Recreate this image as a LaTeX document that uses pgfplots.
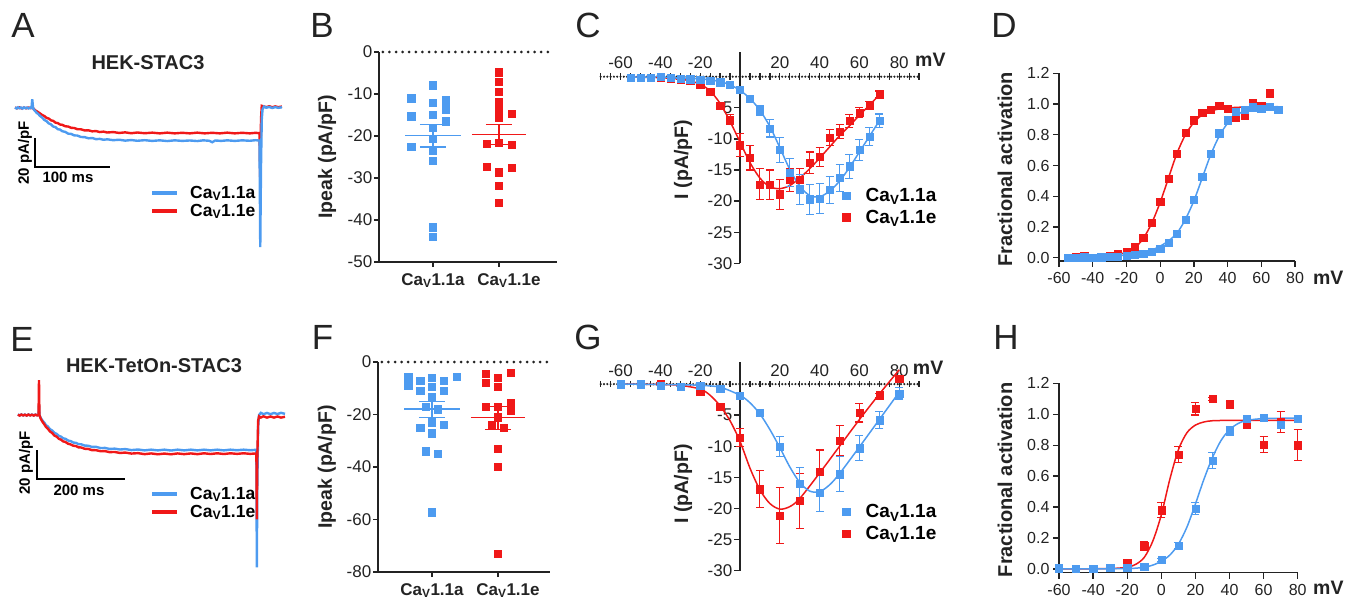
\documentclass[border=0pt]{standalone}
\usepackage{fontspec}
\setmainfont{Liberation Sans}
\usepackage{pgfplots}
\pgfplotsset{compat=1.18}

\definecolor{cblue}{RGB}{77,155,240}
\definecolor{cred}{RGB}{240,24,24}
\definecolor{axc}{RGB}{35,35,35}

\pgfplotsset{
  panel/.style={scale only axis, clip=false,
    /pgf/number format/assume math mode=true,
    tick label style={font=\fontsize{17}{20}\selectfont, text=axc},
    axis line style={line width=1.3pt, axc},
    tick style={line width=1.3pt, axc},
    major tick length=5pt, tick align=outside,
    label style={font=\bfseries\fontsize{19.5}{23}\selectfont, text=axc}},
  sqmk/.style={only marks, mark=square*, mark size=3.6pt},
  ebar/.style={error bars/y dir=both, error bars/y explicit,
    error bars/error bar style={line width=1.1pt},
    error bars/error mark options={rotate=90, mark size=4pt, line width=1.1pt}},
  fit/.style={line width=1.5pt, smooth},
  mvlab/.style={xlabel={mV}, xlabel style={anchor=west, inner sep=0pt, font=\bfseries\fontsize{19.5}{23}\selectfont}},
  ivleg/.style={reverse legend, legend cell align=left,
    legend image code/.code={\draw[##1] plot coordinates {(0pt,0pt)};},
    legend style={draw=none, fill=none, anchor=west, font=\bfseries\fontsize{19}{22}\selectfont,
      row sep=3pt, /tikz/every odd column/.append style={column sep=14pt}}},
  ivx/.style={xmin=-70, xmax=90, ymin=-30, ymax=0, axis x line*=top, axis y line=none,
    tick align=center, major tick length=6.5pt, minor tick length=6.5pt,
    xtick={-60,-40,-20,20,40,60,80}, minor xtick={-70,-65,...,90},
    x axis line style={line width=2.4pt, line cap=round, dash pattern=on 0pt off 3.3pt},
    xtick style={line width=1.3pt}, xticklabel style={yshift=1pt}},
  ipk/.style={axis x line*=bottom, axis y line*=left,
    xtick={1,2}, xticklabels={Ca\textsubscript{V}1.1a\hspace{20pt},\hspace{20pt}Ca\textsubscript{V}1.1e},
    xticklabel style={font=\bfseries\fontsize{17}{20}\selectfont, yshift=-3pt},
    yticklabel style={inner xsep=1.5pt}},
  fa/.style={axis x line*=bottom, axis y line*=left,
    tick label style={font=\fontsize{16}{19}\selectfont},
    major tick length=6pt, xtick={-60,-40,-20,0,20,40,60,80}, ytick={0,0.2,0.4,0.6,0.8,1.0,1.2},
    yticklabel style={/pgf/number format/.cd, fixed, fixed zerofill, precision=1},
    xticklabel style={yshift=-2pt}, ylabel={Fractional activation}},
  zline/.style={axc, line width=3pt, line cap=round, dash pattern=on 0pt off 6.6pt},
}

\newcommand{\lettr}[3]{\node[font=\fontsize{35}{40}\selectfont, text=axc] at (#1pt,-#2pt) {#3};}

\begin{document}
\begin{tikzpicture}
\useasboundingbox (0,0) rectangle (1357pt,-601pt);

% ---------- panel letters, titles, scale bars
\lettr{23}{25}{A}\lettr{322}{25.5}{B}\lettr{588}{25}{C}\lettr{1004}{25}{D}
\lettr{22}{339}{E}\lettr{322.5}{337.5}{F}\lettr{588}{337}{G}\lettr{1006}{337.5}{H}

\node[font=\bfseries\fontsize{20}{24}\selectfont, text=axc] at (148pt,-63pt) {HEK-STAC3};
\node[font=\bfseries\fontsize{20}{24}\selectfont, text=axc] at (154pt,-366pt) {HEK-TetOn-STAC3};

\draw[black, line width=1.6pt] (35pt,-138pt) -- (35pt,-167pt) -- (110pt,-167pt);
\node[rotate=90, font=\bfseries\fontsize{15}{18}\selectfont] at (25pt,-153pt) {20 pA/pF};
\node[font=\bfseries\fontsize{15}{18}\selectfont] at (68pt,-177pt) {100 ms};
\draw[black, line width=1.6pt] (37pt,-450pt) -- (37pt,-479pt) -- (125pt,-479pt);
\node[rotate=90, font=\bfseries\fontsize{15}{18}\selectfont] at (26pt,-463pt) {20 pA/pF};
\node[font=\bfseries\fontsize{15}{18}\selectfont] at (79pt,-490.5pt) {200 ms};

\draw[cblue, line width=3.2pt] (152pt,-193pt) -- (177pt,-193pt);
\draw[cred, line width=3.2pt] (152pt,-211pt) -- (177pt,-211pt);
\node[anchor=base west, inner sep=0pt, font=\bfseries\fontsize{17.5}{20}\selectfont] at (190pt,-198.3pt) {Ca\textsubscript{V}1.1a};
\node[anchor=base west, inner sep=0pt, font=\bfseries\fontsize{17.5}{20}\selectfont] at (190pt,-216.3pt) {Ca\textsubscript{V}1.1e};
\draw[cblue, line width=3.2pt] (152pt,-494pt) -- (177pt,-494pt);
\draw[cred, line width=3.2pt] (152pt,-512pt) -- (177pt,-512pt);
\node[anchor=base west, inner sep=0pt, font=\bfseries\fontsize{17.5}{20}\selectfont] at (190pt,-499.3pt) {Ca\textsubscript{V}1.1a};
\node[anchor=base west, inner sep=0pt, font=\bfseries\fontsize{17.5}{20}\selectfont] at (190pt,-517.3pt) {Ca\textsubscript{V}1.1e};

% ---------- A: traces
\begin{axis}[scale only axis, hide axis, clip=false, at={(15pt,-253pt)}, anchor=south west,
  width=267pt, height=159.5pt, xmin=-23, xmax=333, ymin=-100, ymax=10]
\addplot[cred, line width=2.4pt] coordinates {
(-23,0.3)(-20,-0.2)(-17,0.4)(-14,-0.3)(-11,0.3)(-8,-0.2)(-5,0.3)(-2,-0.1)(0,0.5)(2,-0.6)(4,-1.6)(7,-2.6)(10,-3.6)(13,-4.8)(16,-5.5)(19,-6.8)(22,-7.3)(25,-8.5)(28,-8.9)(31,-10.1)(34,-10.4)(37,-11.4)(40,-11.6)(44,-12.6)(48,-12.8)(52,-13.7)(56,-13.8)(60,-14.6)(65,-14.7)(70,-15.5)(75,-15.4)(80,-16.1)(85,-15.9)(90,-16.6)(95,-16.3)(100,-16.9)(108,-16.6)(116,-17.2)(124,-16.8)(132,-17.4)(140,-16.9)(150,-17.4)(160,-17.0)(170,-17.5)(180,-17.0)(190,-17.5)(200,-17.1)(210,-17.5)(220,-17.0)(230,-17.5)(240,-17.1)(250,-17.5)(260,-17.0)(270,-17.5)(280,-17.1)(290,-17.5)(298,-17.1)(303,-17.4)(304,-50)(305,-8)(306,1.5)(308,1.2)(312,0.6)(316,1.2)(320,0.5)(324,1.1)(328,0.6)(333,1)};
\addplot[cblue, line width=2.4pt] coordinates {
(-23,0.4)(-21,-0.3)(-19,0.5)(-17,-0.2)(-15,0.3)(-13,-0.4)(-11,0.4)(-9,-0.2)(-7,0.3)(-5,-0.3)(-3,0.2)(-1,0)(0,6)(1,0.5)(2,-1)(4,-2.2)(6,-3.4)(8,-4.1)(10,-5.3)(13,-6.5)(16,-8.2)(19,-9.1)(22,-10.6)(25,-11.3)(28,-12.8)(31,-13.2)(34,-14.6)(37,-14.9)(40,-16.0)(44,-16.5)(48,-17.7)(52,-17.9)(56,-18.9)(60,-19.0)(65,-20.0)(70,-20.1)(75,-20.9)(80,-20.7)(85,-21.5)(90,-21.3)(95,-21.9)(100,-21.6)(108,-22.2)(116,-21.9)(124,-22.5)(132,-22.1)(140,-22.6)(150,-22.2)(160,-22.7)(170,-22.3)(180,-22.8)(190,-22.3)(200,-22.7)(210,-22.4)(220,-22.8)(228,-22.3)(236,-22.6)(240,-23.6)(244,-22.4)(252,-22.7)(260,-22.3)(270,-22.7)(280,-22.3)(290,-22.6)(298,-22.2)(303,-22.5)(304,-96)(305,-40)(306,-8)(307,-1)(309,1)(312,0.2)(316,0.7)(320,0)(324,0.6)(328,0.1)(333,0.5)};
\end{axis}

% ---------- E: traces
\begin{axis}[scale only axis, hide axis, clip=false, at={(18pt,-574.5pt)}, anchor=south west,
  width=267pt, height=197.2pt, xmin=-47.7, xmax=559, ymin=-110, ymax=26]
\addplot[cblue, line width=2.4pt] coordinates {
(-48,0.4)(-44,-0.3)(-40,0.4)(-36,-0.3)(-32,0.3)(-28,-0.4)(-24,0.4)(-20,-0.2)(-16,0.3)(-12,-0.3)(-8,0.3)(-4,-0.2)(-1,0)(0,7)(1,0)(4,-2.0)(8,-3.9)(12,-5.2)(16,-7.1)(20,-7.9)(25,-9.8)(30,-10.7)(35,-12.3)(40,-13.0)(45,-14.4)(50,-14.9)(55,-16.1)(60,-16.4)(66,-17.6)(72,-18.0)(78,-19.0)(84,-19.2)(90,-20.1)(96,-20.2)(104,-21.1)(112,-21.2)(120,-22.0)(130,-22.0)(140,-22.8)(150,-22.7)(160,-23.4)(172,-23.2)(184,-23.8)(196,-23.5)(210,-24.2)(225,-23.8)(240,-24.4)(255,-23.9)(270,-24.4)(285,-23.9)(300,-24.5)(315,-23.9)(330,-24.4)(345,-23.9)(360,-24.4)(375,-23.9)(390,-24.4)(405,-23.9)(420,-24.4)(435,-23.9)(450,-24.3)(465,-23.9)(480,-24.3)(494,-24.0)(495,-105)(496,-50)(498,-8)(500,0)(504,1.5)(510,0.6)(518,1.4)(526,0.6)(534,1.4)(542,0.7)(550,1.5)(559,0.8)};
\addplot[cred, line width=2.4pt] coordinates {
(-48,0.2)(-44,-0.4)(-40,0.3)(-36,-0.3)(-32,0.2)(-28,-0.4)(-24,0.3)(-20,-0.3)(-16,0.2)(-12,-0.4)(-8,0.2)(-4,-0.3)(-1,0)(0,24)(1,0)(4,-2.6)(8,-4.7)(12,-6.4)(16,-8.3)(20,-9.4)(25,-11.4)(30,-12.4)(35,-14.2)(40,-14.9)(45,-16.4)(50,-17.0)(55,-18.2)(60,-18.6)(66,-19.8)(72,-20.3)(78,-21.2)(84,-21.4)(90,-22.3)(96,-22.4)(104,-23.3)(112,-23.4)(120,-24.2)(130,-24.3)(140,-25.0)(150,-24.9)(160,-25.6)(172,-25.5)(184,-26.2)(196,-25.9)(210,-26.6)(225,-26.3)(240,-27.0)(255,-26.5)(270,-27.1)(285,-26.6)(300,-27.1)(315,-26.5)(330,-27.0)(345,-26.5)(360,-27.0)(375,-26.4)(390,-26.9)(405,-26.4)(420,-26.9)(435,-26.4)(450,-26.8)(465,-26.4)(480,-26.8)(494,-26.5)(495,-72)(496,-30)(498,-4)(500,-1)(504,-1.8)(510,-0.9)(518,-1.8)(526,-1.0)(534,-1.8)(542,-1.0)(550,-1.8)(559,-1.2)};
\end{axis}

% ---------- B: Ipeak scatter
\begin{axis}[panel, ipk, at={(379pt,-262pt)}, anchor=south west, width=178pt, height=210pt,
  xmin=0.182, xmax=2.879, ymin=-50, ymax=0, ytick={-50,-40,-30,-20,-10,0},
  ylabel={Ipeak (pA/pF)}, ylabel style={at={(axis description cs:-0.292,0.5)}, anchor=center}]
\addplot[zline] coordinates {(0.24,0) (2.81,0)};
\addplot[sqmk, cblue] coordinates {(1,-7.9)(0.67,-11.0)(1,-12.1)(1.19,-11.5)(1.19,-13.6)(0.67,-15.3)(1,-14.9)(1.19,-16.5)(1,-18.1)(1,-20.6)(0.67,-22.6)(1,-23.4)(1,-25.8)(1,-41.7)(1,-43.9)};
\addplot[sqmk, cred] coordinates {(2,-4.8)(2,-7.1)(2,-9.4)(2,-11.9)(2,-12.9)(2,-14.3)(2,-15.6)(2.19,-14.7)(1.81,-21.8)(2,-21.6)(2.19,-22.0)(1.81,-27.4)(2.19,-27.5)(2,-28.6)(2,-31.9)(2,-35.9)};
\addplot[cblue, line width=1.3pt] coordinates {(0.58,-19.9) (1.42,-19.9)};
\addplot[cblue, line width=1.3pt] coordinates {(1,-17.2) (1,-22.6)};
\addplot[cblue, line width=1.3pt] coordinates {(0.8,-17.2) (1.2,-17.2)};
\addplot[cblue, line width=1.3pt] coordinates {(0.8,-22.6) (1.2,-22.6)};
\addplot[cred, line width=1.3pt] coordinates {(1.59,-19.7) (2.41,-19.7)};
\addplot[cred, line width=1.3pt] coordinates {(2,-17.3) (2,-22.1)};
\addplot[cred, line width=1.3pt] coordinates {(1.8,-17.3) (2.2,-17.3)};
\addplot[cred, line width=1.3pt] coordinates {(1.8,-22.1) (2.2,-22.1)};
\end{axis}

% ---------- F: Ipeak scatter
\begin{axis}[panel, ipk, at={(378pt,-572pt)}, anchor=south west, width=172pt, height=210pt,
  xmin=0.182, xmax=2.788, ymin=-80, ymax=0, ytick={-80,-60,-40,-20,0},
  ylabel={Ipeak (pA/pF)}, ylabel style={at={(axis description cs:-0.297,0.5)}, anchor=center}]
\addplot[zline] coordinates {(0.24,0) (2.75,0)};
\addplot[sqmk, cblue] coordinates {(0.64,-5.7)(0.64,-7.6)(0.64,-8.9)(0.82,-7.0)(1,-6.0)(1.18,-7.0)(1.37,-5.5)(1,-9.5)(0.82,-10.8)(1.18,-10.8)(1,-13.1)(0.91,-16.9)(1.09,-18.0)(1,-22.9)(0.82,-25.0)(1.18,-23.9)(1,-27.1)(0.91,-34.0)(1.09,-34.9)(1,-57.2)};
\addplot[sqmk, cred] coordinates {(1.81,-4.4)(2.19,-4.2)(2,-6.1)(1.81,-8.0)(2,-9.5)(1.81,-16.9)(2,-16.9)(2.19,-15.6)(2.19,-18.7)(2,-21.0)(1.9,-23.9)(2.09,-25.0)(2,-33.0)(2,-40.0)(2,-73.0)};
\addplot[cblue, line width=1.3pt] coordinates {(0.58,-17.9) (1.42,-17.9)};
\addplot[cblue, line width=1.3pt] coordinates {(1,-15.0) (1,-21.2)};
\addplot[cblue, line width=1.3pt] coordinates {(0.8,-15.0) (1.2,-15.0)};
\addplot[cblue, line width=1.3pt] coordinates {(0.8,-21.2) (1.2,-21.2)};
\addplot[cred, line width=1.3pt] coordinates {(1.59,-21.2) (2.41,-21.2)};
\addplot[cred, line width=1.3pt] coordinates {(2,-16.9) (2,-25.7)};
\addplot[cred, line width=1.3pt] coordinates {(1.8,-16.9) (2.2,-16.9)};
\addplot[cred, line width=1.3pt] coordinates {(1.8,-25.7) (2.2,-25.7)};
\end{axis}

% ---------- C: I-V (y axis, then x axis with data)
\begin{axis}[panel, at={(740pt,-263.3pt)}, anchor=south west, width=179.1pt, height=211.5pt,
  xmin=0, xmax=90, ymin=-30, ymax=4, axis y line*=left, axis x line=none,
  ytick={-30,-25,-20,-15,-10,-5}, yticklabel style={inner xsep=1.5pt}, major tick length=6pt,
  ylabel={I (pA/pF)}, ylabel style={at={(axis description cs:-0.318,0.49)}, anchor=center}]
\end{axis}
\begin{axis}[panel, ivx, ivleg, mvlab, at={(600.7pt,-263.3pt)}, anchor=south west, width=318.4pt, height=186.6pt,
  xlabel style={at={(axis description cs:0.987,1.089)}},
  legend style={at={(axis cs:49.9,-20.85)}}]
\addplot[cred, fit, forget plot] coordinates {(-55,-0.05)(-40,-0.15)(-30,-0.4)(-25,-0.7)(-20,-1.2)(-15,-2.3)(-10,-4.3)(-5,-7.2)(0,-10.5)(5,-13.8)(10,-16.3)(15,-17.7)(20,-18.0)(25,-17.5)(30,-16.3)(35,-14.8)(40,-13.1)(45,-11.3)(50,-9.5)(55,-7.9)(60,-6.2)(65,-4.6)(70,-2.9)};
\addplot[cblue, fit, forget plot] coordinates {(-55,-0.05)(-40,-0.1)(-30,-0.2)(-20,-0.35)(-15,-0.5)(-10,-0.8)(-5,-1.3)(0,-2.2)(5,-3.5)(10,-5.4)(15,-8.0)(20,-11.4)(25,-14.9)(30,-17.6)(35,-19.1)(40,-19.3)(45,-18.4)(50,-16.8)(55,-14.6)(60,-12.1)(65,-9.6)(70,-7.1)};
\addplot[sqmk, cred, ebar] coordinates {
(-55,-0.1) +- (0,0) (-50,-0.1) +- (0,0) (-45,-0.2) +- (0,0) (-40,-0.1) +- (0,0) (-35,-0.3) +- (0,0) (-30,-0.4) +- (0,0) (-25,-0.7) +- (0,0.1)
(-20,-1.3) +- (0,0.2) (-15,-2.4) +- (0,0.3) (-10,-4.7) +- (0,0.5) (-5,-6.9) +- (0,0.8) (0,-11.0) +- (0,1.9) (5,-13.0) +- (0,2.0)
(10,-17.3) +- (0,2.5) (15,-17.4) +- (0,2.4) (20,-18.9) +- (0,2.4) (25,-16.6) +- (0,1.9) (30,-16.5) +- (0,1.7) (35,-13.8) +- (0,1.7)
(40,-12.9) +- (0,1.5) (45,-9.8) +- (0,1.3) (50,-8.8) +- (0,1.1) (55,-7.1) +- (0,1.0) (60,-5.8) +- (0,0.8) (65,-4.6) +- (0,0.6) (70,-2.8) +- (0,0.5)};
\addlegendentry{Ca\textsubscript{V}1.1e}
\addplot[sqmk, cblue, ebar] coordinates {
(-55,-0.1) +- (0,0) (-50,-0.1) +- (0,0) (-45,-0.1) +- (0,0) (-40,0) +- (0,0) (-35,-0.1) +- (0,0) (-30,-0.3) +- (0,0) (-25,-0.4) +- (0,0)
(-20,-0.5) +- (0,0.1) (-15,-0.7) +- (0,0.1) (-10,-0.9) +- (0,0.1) (-5,-1.3) +- (0,0.2) (0,-2.1) +- (0,0.3) (5,-3.6) +- (0,0.5)
(10,-5.4) +- (0,0.8) (15,-8.3) +- (0,1.4) (20,-11.8) +- (0,2.0) (25,-15.4) +- (0,2.3) (30,-18.1) +- (0,2.4) (35,-19.7) +- (0,2.4)
(40,-19.6) +- (0,2.4) (45,-18.2) +- (0,2.2) (50,-16.3) +- (0,2.2) (55,-14.4) +- (0,1.9) (60,-11.8) +- (0,1.7) (65,-9.6) +- (0,1.4) (70,-7.1) +- (0,1.1)};
\addlegendentry{Ca\textsubscript{V}1.1a}
\end{axis}

% ---------- G: I-V
\begin{axis}[panel, at={(740pt,-570.7pt)}, anchor=south west, width=179.1pt, height=209.1pt,
  xmin=0, xmax=90, ymin=-30, ymax=3.6, axis y line*=left, axis x line=none,
  ytick={-30,-25,-20,-15,-10,-5}, yticklabel style={inner xsep=1.5pt}, major tick length=6pt,
  ylabel={I (pA/pF)}, ylabel style={at={(axis description cs:-0.318,0.415)}, anchor=center}]
\end{axis}
\begin{axis}[panel, ivx, ivleg, mvlab, at={(600.7pt,-570.7pt)}, anchor=south west, width=318.4pt, height=186.6pt,
  xlabel style={at={(axis description cs:0.98,1.086)}},
  legend style={at={(axis cs:49.9,-22.3)}}]
\addplot[cred, fit, forget plot] coordinates {(-60,0)(-40,-0.05)(-30,-0.2)(-20,-0.8)(-15,-1.8)(-10,-3.5)(-5,-5.9)(0,-9.2)(5,-13.5)(10,-17.0)(15,-19.2)(20,-20.1)(25,-19.7)(30,-18.4)(40,-14.3)(50,-10.0)(60,-5.7)(70,-1.6)(80,2.3)};
\addplot[cblue, fit, forget plot] coordinates {(-60,0)(-30,-0.1)(-20,-0.2)(-10,-0.5)(0,-1.8)(5,-3.0)(10,-4.8)(15,-7.3)(20,-10.2)(25,-13.3)(30,-15.8)(35,-17.2)(40,-17.3)(45,-16.2)(50,-14.4)(60,-10.1)(70,-5.7)(80,-1.3)};
\addplot[sqmk, cred, ebar] coordinates {
(-60,0) +- (0,0) (-50,0.1) +- (0,0.1) (-40,0.1) +- (0,0.1) (-30,-0.4) +- (0,0) (-20,-1.2) +- (0,0.2) (-10,-3.6) +- (0,0.5)
(0,-8.6) +- (0,1.4) (10,-16.9) +- (0,3.0) (20,-21.1) +- (0,4.5) (30,-18.8) +- (0,4.4) (40,-14.1) +- (0,3.5)
(50,-9.1) +- (0,2.4) (60,-4.6) +- (0,1.5) (70,-1.8) +- (0,0.3) (80,0.9) +- (0,0.3)};
\addlegendentry{Ca\textsubscript{V}1.1e}
\addplot[sqmk, cblue, ebar] coordinates {
(-60,0) +- (0,0) (-50,0) +- (0,0) (-40,-0.2) +- (0,0) (-30,-0.4) +- (0,0) (-20,-0.3) +- (0,0) (-10,-0.7) +- (0,0.1)
(0,-1.9) +- (0,0.2) (10,-4.6) +- (0,0.3) (20,-10.0) +- (0,1.6) (30,-16.0) +- (0,2.6) (40,-17.4) +- (0,3.1)
(50,-14.5) +- (0,2.8) (60,-10.3) +- (0,2.0) (70,-5.8) +- (0,1.4) (80,-1.5) +- (0,0.9)};
\addlegendentry{Ca\textsubscript{V}1.1a}
\end{axis}

% ---------- D: activation
\begin{axis}[panel, fa, mvlab, at={(1059pt,-261pt)}, anchor=south west, width=236pt, height=187.7pt,
  xmin=-60, xmax=80, ymin=-0.0215, ymax=1.2,
  ylabel style={at={(axis description cs:-0.229,0.49)}, anchor=center, font=\bfseries\fontsize{20}{24}\selectfont},
  xlabel style={at={(axis description cs:1.076,-0.09)}}]
\addplot[cred, fit] coordinates {(-55,0.003)(-40,0.008)(-30,0.015)(-25,0.022)(-20,0.035)(-15,0.065)(-10,0.125)(-5,0.225)(0,0.36)(5,0.52)(10,0.68)(15,0.8)(20,0.88)(25,0.93)(30,0.955)(35,0.968)(40,0.975)(50,0.98)(65,0.98)};
\addplot[cblue, fit] coordinates {(-55,0.003)(-40,0.006)(-30,0.01)(-20,0.018)(-10,0.035)(-5,0.05)(0,0.075)(5,0.11)(10,0.16)(15,0.25)(20,0.37)(25,0.52)(30,0.67)(35,0.79)(40,0.875)(45,0.925)(50,0.955)(55,0.97)(60,0.978)(70,0.983)};
\addplot[sqmk, cred] coordinates {(-55,0.002)(-50,0.003)(-45,0.01)(-40,0.002)(-35,0.006)(-30,0.013)(-25,0.024)(-20,0.039)(-15,0.072)(-10,0.132)(-5,0.228)(0,0.365)(5,0.516)(10,0.679)(15,0.813)(20,0.895)(25,0.943)(30,0.961)(35,0.987)(40,0.972)(45,0.911)(50,0.922)(55,1.009)(60,0.99)(65,1.07)};
\addplot[sqmk, cblue] coordinates {(-55,0)(-50,0.002)(-45,0.003)(-40,0)(-35,0.003)(-30,0.007)(-25,0.007)(-20,0.011)(-15,0.017)(-10,0.028)(-5,0.039)(0,0.061)(5,0.1)(10,0.154)(15,0.249)(20,0.375)(25,0.529)(30,0.675)(35,0.81)(40,0.895)(45,0.95)(50,0.965)(55,0.98)(60,0.97)(65,0.985)(70,0.965)};
\end{axis}

% ---------- H: activation
\begin{axis}[panel, fa, mvlab, at={(1059pt,-572.7pt)}, anchor=south west, width=238.7pt, height=189.4pt,
  xmin=-60, xmax=80, ymin=-0.024, ymax=1.2,
  ylabel style={at={(axis description cs:-0.226,0.49)}, anchor=center, font=\bfseries\fontsize{20}{24}\selectfont},
  xlabel style={at={(axis description cs:1.064,-0.081)}}]
\addplot[cred, fit] coordinates {(-60,0)(-30,0.003)(-20,0.012)(-15,0.03)(-10,0.075)(-5,0.18)(0,0.35)(5,0.58)(10,0.77)(15,0.88)(20,0.93)(25,0.95)(30,0.958)(40,0.96)(80,0.96)};
\addplot[cblue, fit] coordinates {(-60,0)(-20,0.003)(-10,0.012)(-5,0.025)(0,0.05)(5,0.09)(10,0.16)(15,0.27)(20,0.42)(25,0.58)(30,0.72)(35,0.83)(40,0.9)(45,0.94)(50,0.96)(60,0.972)(80,0.975)};
\addplot[sqmk, cred, ebar] coordinates {
(-60,0) +- (0,0) (-50,0) +- (0,0) (-40,0) +- (0,0) (-30,0.01) +- (0,0) (-20,0.04) +- (0,0.01) (-10,0.15) +- (0,0.03)
(0,0.38) +- (0,0.05) (10,0.74) +- (0,0.05) (20,1.035) +- (0,0.04) (30,1.10) +- (0,0.01) (40,1.065) +- (0,0.015)
(50,0.935) +- (0,0.03) (60,0.805) +- (0,0.05) (70,0.95) +- (0,0.07) (80,0.80) +- (0,0.1)};
\addplot[sqmk, cblue, ebar] coordinates {
(-60,0.005) +- (0,0) (-50,0) +- (0,0) (-40,0.003) +- (0,0) (-30,0.008) +- (0,0) (-20,0.008) +- (0,0) (-10,0.013) +- (0,0)
(0,0.06) +- (0,0.01) (10,0.15) +- (0,0.02) (20,0.39) +- (0,0.04) (30,0.70) +- (0,0.05) (40,0.89) +- (0,0.03)
(50,0.97) +- (0,0.01) (60,0.98) +- (0,0.01) (70,0.935) +- (0,0.02) (80,0.97) +- (0,0.02)};
\end{axis}
\end{tikzpicture}
\end{document}
